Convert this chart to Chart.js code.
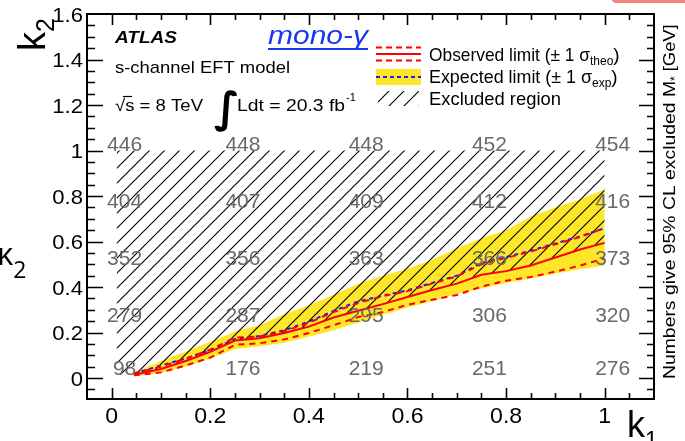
<!DOCTYPE html>
<html>
<head>
<meta charset="utf-8">
<script src="https://cdn.jsdelivr.net/npm/chart.js@4.4.1/dist/chart.umd.min.js"></script>
<style>
  html, body { margin: 0; padding: 0; background: #fff; }
  canvas { display: block; }
</style>
</head>
<body>
<canvas id="limitChart" width="685" height="441"></canvas>
<script>
// k1 sampling points of the limit curves
const k1 = [0.045, 0.1, 0.15, 0.2, 0.25, 0.3, 0.35, 0.4, 0.45, 0.5,
            0.55, 0.6, 0.65, 0.7, 0.75, 0.8, 0.85, 0.9, 0.95, 1.0];
const observed = [0.015, 0.04, 0.075, 0.115, 0.165, 0.175, 0.198, 0.226, 0.266, 0.296,
                  0.325, 0.356, 0.387, 0.415, 0.454, 0.47, 0.495, 0.53, 0.565, 0.594];
const observedUp = [0.02, 0.05, 0.085, 0.125, 0.178, 0.183, 0.205, 0.243, 0.29, 0.33,
                    0.36, 0.382, 0.415, 0.447, 0.5, 0.528, 0.556, 0.588, 0.62, 0.66];
const observedDown = [0.012, 0.025, 0.055, 0.09, 0.146, 0.153, 0.17, 0.198, 0.232, 0.268,
                      0.29, 0.322, 0.344, 0.365, 0.402, 0.428, 0.444, 0.468, 0.494, 0.526];
const expected = [0.02, 0.055, 0.086, 0.122, 0.172, 0.185, 0.21, 0.248, 0.295, 0.337,
                  0.362, 0.386, 0.418, 0.45, 0.505, 0.532, 0.56, 0.592, 0.622, 0.659];
const expectedUp = [0.025, 0.075, 0.117, 0.158, 0.205, 0.232, 0.28, 0.32, 0.365, 0.415,
                    0.45, 0.48, 0.52, 0.57, 0.615, 0.65, 0.71, 0.75, 0.785, 0.83];
const expectedDown = [0.008, 0.022, 0.05, 0.085, 0.128, 0.14, 0.155, 0.182, 0.21, 0.243,
                      0.278, 0.31, 0.338, 0.37, 0.394, 0.418, 0.438, 0.46, 0.478, 0.495];

// excluded region: from the observed limit up to k2 = 1
const hatchLeft = 0.01;
const hatchTopK2 = 1.0;
const hatchFloorLeft = 0.015;

// 95% CL excluded M* [GeV], rows by k2, columns by k1
const massCols = [0.01, 0.25, 0.5, 0.75, 1.0];
const massRows = [0.015, 0.25, 0.5, 0.75, 1.0];
const massValues = [
  [98, 176, 219, 251, 276],
  [279, 287, 295, 306, 320],
  [352, 356, 363, 366, 373],
  [404, 407, 409, 412, 416],
  [446, 448, 448, 452, 454]
];

const xTicks = [0, 0.2, 0.4, 0.6, 0.8, 1];
const xTickLabels = ['0', '0.2', '0.4', '0.6', '0.8', '1'];
const yTicks = [0, 0.2, 0.4, 0.6, 0.8, 1, 1.2, 1.4, 1.6];
const yTickLabels = ['0', '0.2', '0.4', '0.6', '0.8', '1', '1.2', '1.4', '1.6'];

const pts = (xs, ys) => xs.map((x, i) => ({ x: x, y: ys[i] }));

function makeHatch() {
  const c = document.createElement('canvas');
  c.width = 15; c.height = 15;
  const g = c.getContext('2d');
  g.strokeStyle = '#000';
  g.lineWidth = 1.1;
  g.beginPath();
  g.moveTo(0, 15); g.lineTo(15, 0);
  g.moveTo(-2, 2); g.lineTo(2, -2);
  g.moveTo(13, 17); g.lineTo(17, 13);
  g.stroke();
  return g.createPattern(c, 'repeat');
}
const hatch = makeHatch();

const SANS = '"Liberation Sans", Arial, Helvetica, sans-serif';

// draws text, optionally fitted to a given width (ROOT fonts run wide)
function txt(ctx, s, x, y, size, o) {
  o = o || {};
  ctx.save();
  ctx.font = (o.style || '') + ' ' + size + 'px ' + (o.family || SANS);
  const w0 = ctx.measureText(s).width;
  const sx = o.width ? o.width / w0 : (o.sx || 1);
  ctx.translate(x, y);
  if (o.rot) ctx.rotate(o.rot);
  ctx.scale(sx, 1);
  ctx.fillStyle = o.color || '#000';
  ctx.textAlign = o.align || 'left';
  ctx.textBaseline = o.base || 'alphabetic';
  ctx.fillText(s, 0, 0);
  ctx.restore();
  return w0 * sx;
}

const decorations = {
  id: 'decorations',
  afterDatasetsDraw(chart) {
    const ctx = chart.ctx;
    const xs = chart.scales.x, ys = chart.scales.y;
    const a = chart.chartArea;

    // mass numbers
    massValues.forEach((row, r) => {
      row.forEach((v, c) => {
        txt(ctx, String(v), xs.getPixelForValue(massCols[c]) + 8, ys.getPixelForValue(massRows[r]) - 5, 21,
            { align: 'center', base: 'middle', color: '#696969' });
      });
    });

    // frame
    ctx.save();
    ctx.strokeStyle = '#000';
    ctx.lineWidth = 2;
    ctx.strokeRect(a.left, a.top, a.right - a.left, a.bottom - a.top);

    // ticks, drawn inward
    ctx.lineWidth = 1.6;
    ctx.beginPath();
    for (let i = -1; i <= 22; i++) {
      const v = i * 0.05;
      const px = Math.round(xs.getPixelForValue(v)) + 0.5;
      if (px < a.left + 1 || px > a.right - 1) continue;
      const len = (i % 4 === 0) ? 11 : 6;
      ctx.moveTo(px, a.bottom); ctx.lineTo(px, a.bottom - len);
      ctx.moveTo(px, a.top); ctx.lineTo(px, a.top + len);
    }
    for (let i = -1; i <= 32; i++) {
      const v = i * 0.05;
      const py = Math.round(ys.getPixelForValue(v)) + 0.5;
      if (py < a.top + 1 || py > a.bottom - 1) continue;
      const major = (i % 4 === 0);
      ctx.moveTo(a.left, py); ctx.lineTo(a.left + (major ? 16 : 8), py);
      ctx.moveTo(a.right, py); ctx.lineTo(a.right - (major ? 15 : 7), py);
    }
    ctx.stroke();
    ctx.restore();

    // tick labels
    xTicks.forEach((v, i) => {
      txt(ctx, xTickLabels[i], xs.getPixelForValue(v), 423, 22, { align: 'center', sx: 1.05 });
    });
    yTicks.forEach((v, i) => {
      txt(ctx, yTickLabels[i], 83, ys.getPixelForValue(v) + 7.5, 21, { align: 'right', sx: 1.05 });
    });

    // axis titles
    let w = txt(ctx, 'k', 45, 51, 38, { rot: -Math.PI / 2 });
    txt(ctx, '2', 54, 51 - w, 25, { rot: -Math.PI / 2 });
    w = txt(ctx, 'k', 627, 437, 36);
    txt(ctx, '1', 627 + w, 448, 23);
    w = txt(ctx, 'κ', -3, 265, 31, { family: '"Open Sans", sans-serif' });
    txt(ctx, '2', -3 + w, 278, 23, { family: '"Open Sans", sans-serif' });

    // right axis title
    w = txt(ctx, 'Numbers give 95% CL excluded M', 675, 379, 17, { rot: -Math.PI / 2, width: 298 });
    let w2 = txt(ctx, '*', 679, 379 - w, 12, { rot: -Math.PI / 2 });
    txt(ctx, ' [GeV]', 675, 379 - w - w2, 17, { rot: -Math.PI / 2, width: 52 });

    // experiment labels
    txt(ctx, 'ATLAS', 115, 43, 17, { style: 'italic bold', width: 62 });
    txt(ctx, 's-channel EFT model', 115, 73, 17, { width: 175 });
    txt(ctx, '√s = 8 TeV', 115, 111, 17, { width: 88 });
    ctx.save();
    ctx.strokeStyle = '#000'; ctx.lineWidth = 1.2;
    ctx.beginPath(); ctx.moveTo(123, 96.5); ctx.lineTo(132, 96.5); ctx.stroke();
    ctx.restore();
    txt(ctx, '∫', 214, 122, 42, { family: '"DejaVu Sans", sans-serif', style: 'bold' });
    w = txt(ctx, 'Ldt = 20.3 fb', 237, 111, 17, { width: 108 });
    txt(ctx, '-1', 237 + w + 1, 101, 11);

    // mono-γ tag
    w = txt(ctx, 'mono-γ', 268, 44, 25, { style: 'italic', width: 100, color: '#1637f2' });
    ctx.save();
    ctx.fillStyle = '#1637f2';
    ctx.fillRect(268, 48, 100, 2);
    ctx.restore();

    // legend
    ctx.save();
    ctx.lineWidth = 2;
    ctx.strokeStyle = '#ff0000';
    ctx.beginPath(); ctx.moveTo(376, 54); ctx.lineTo(421, 54); ctx.stroke();
    ctx.setLineDash([6, 4]);
    ctx.beginPath();
    ctx.moveTo(376, 47.5); ctx.lineTo(421, 47.5);
    ctx.moveTo(376, 60.5); ctx.lineTo(421, 60.5);
    ctx.stroke();
    ctx.fillStyle = '#fee629';
    ctx.fillRect(376, 69, 45, 16);
    ctx.strokeStyle = '#1a1aff';
    ctx.setLineDash([4, 3]);
    ctx.beginPath(); ctx.moveTo(376, 77); ctx.lineTo(421, 77); ctx.stroke();
    ctx.setLineDash([]);
    ctx.fillStyle = hatch;
    ctx.fillRect(378, 91, 41, 15);
    ctx.restore();

    w = txt(ctx, 'Observed limit (± 1 σ', 429, 61, 19, { width: 161 });
    w2 = txt(ctx, 'theo', 429 + w, 65, 12);
    txt(ctx, ')', 429 + w + w2, 61, 19);
    w = txt(ctx, 'Expected limit (± 1 σ', 429, 83, 19, { width: 163 });
    w2 = txt(ctx, 'exp', 429 + w, 87, 12);
    txt(ctx, ')', 429 + w + w2, 83, 19);
    txt(ctx, 'Excluded region', 429, 105, 19, { width: 132 });

    // corner tab
    ctx.save();
    ctx.fillStyle = '#f4877c';
    ctx.beginPath();
    ctx.roundRect(612, -10, 80, 13, 4);
    ctx.fill();
    ctx.restore();
  }
};

new Chart(document.getElementById('limitChart'), {
  type: 'scatter',
  data: {
    datasets: [
      { label: 'expected +1 sigma', data: pts(k1, expectedUp), showLine: true, borderWidth: 0,
        backgroundColor: '#fee629', fill: '+1', order: 6 },
      { label: 'expected -1 sigma', data: pts(k1, expectedDown), showLine: true, borderWidth: 0,
        fill: false, order: 6 },
      { label: 'excluded top', data: pts([hatchLeft].concat(k1), [hatchTopK2].concat(k1.map(() => hatchTopK2))),
        showLine: true, borderWidth: 0, backgroundColor: hatch, fill: '+1', order: 5 },
      { label: 'excluded floor', data: pts([hatchLeft].concat(k1), [hatchFloorLeft].concat(observed)),
        showLine: true, borderWidth: 0, fill: false, order: 5 },
      { label: 'Expected limit', data: pts(k1, expected), showLine: true, borderColor: '#1a1aff',
        borderWidth: 2, borderDash: [4, 4], fill: false, order: 3 },
      { label: 'Observed +1 sigma', data: pts(k1, observedUp), showLine: true, borderColor: '#ff0000',
        borderWidth: 2, borderDash: [6, 5], fill: false, order: 2 },
      { label: 'Observed -1 sigma', data: pts(k1, observedDown), showLine: true, borderColor: '#ff0000',
        borderWidth: 2, borderDash: [6, 5], fill: false, order: 2 },
      { label: 'Observed limit', data: pts(k1, observed), showLine: true, borderColor: '#ff0000',
        borderWidth: 2, fill: false, order: 1 }
    ]
  },
  options: {
    responsive: false,
    animation: false,
    layout: { padding: { left: 87, right: 31, top: 14, bottom: 42 } },
    elements: { point: { radius: 0 }, line: { tension: 0 } },
    plugins: { legend: { display: false }, tooltip: { enabled: false } },
    scales: {
      x: { type: 'linear', min: -0.05, max: 1.1, display: false },
      y: { type: 'linear', min: -0.092, max: 1.6, display: false }
    }
  },
  plugins: [decorations]
});
</script>
</body>
</html>
